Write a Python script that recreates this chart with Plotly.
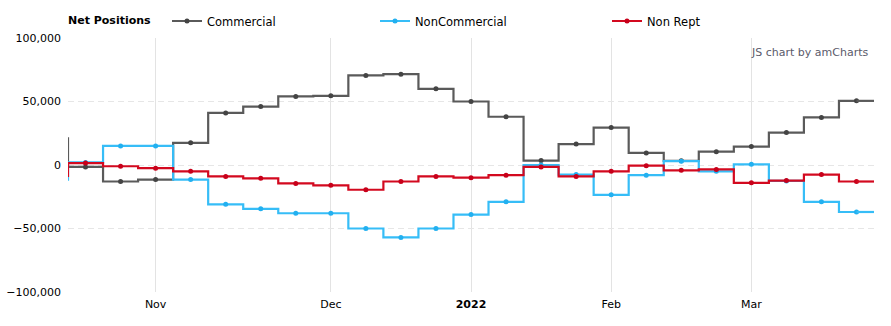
import plotly.graph_objects as go

# Weekly report dates (first entry precedes the visible window)
dates = ["2021-10-12", "2021-10-19", "2021-10-26", "2021-11-02", "2021-11-09", "2021-11-16",
         "2021-11-23", "2021-11-30", "2021-12-07", "2021-12-14", "2021-12-21", "2021-12-28",
         "2022-01-04", "2022-01-11", "2022-01-18", "2022-01-25", "2022-02-01", "2022-02-08",
         "2022-02-15", "2022-02-22", "2022-03-01", "2022-03-08", "2022-03-15", "2022-03-22"]

commercial = [21000, -1500, -13000, -11500, 17500, 41000, 46000, 54000, 54500, 70500, 71500,
              60000, 50000, 38000, 3500, 16500, 29500, 9500, 3300, 10500, 14500, 25500, 37500, 50500]
noncommercial = [-11500, 2000, 15000, 15000, -11500, -31000, -34500, -38000, -38000, -50000, -57000,
                 -50000, -39000, -29000, 0, -7500, -23500, -8000, 3000, -5000, 500, -12500, -29000, -37000]
nonrept = [-8500, 1500, -1000, -2500, -5000, -9000, -10500, -14500, -16000, -19500, -13000,
           -9000, -10000, -8000, -1500, -9000, -5000, -500, -4200, -3500, -14000, -12300, -7500, -13000]

month_ticks = ["2021-11-02", "2021-12-07", "2022-01-04", "2022-02-01", "2022-03-01"]
month_labels = ["Nov", "Dec", "<b>2022</b>", "Feb", "Mar"]
y_ticks = [-100000, -50000, 0, 50000, 100000]

series = [
    ("Commercial", commercial, "#5a5a5a", "#444444", "legend"),
    ("NonCommercial", noncommercial, "#36bdf7", "#22b0f0", "legend2"),
    ("Non Rept", nonrept, "#d3091f", "#c8001a", "legend3"),
]

FONT = "DejaVu Sans"
idx = list(range(len(dates)))
n = len(dates)

fig = go.Figure()
for name, vals, col, mcol, lg in series:
    fig.add_trace(go.Scatter(
        x=idx, y=vals, name=name, mode="lines+markers", line_shape="hvh",
        line=dict(color=col, width=2.2), marker=dict(color=mcol, size=5),
        legend=lg, cliponaxis=True, hoverinfo="skip"))
    # extend last step to the right edge of its cell
    fig.add_trace(go.Scatter(
        x=[idx[-1], idx[-1] + 0.5], y=[vals[-1], vals[-1]], mode="lines",
        line=dict(color=col, width=2.2), showlegend=False, hoverinfo="skip"))

L, R, T, B = 68, 17, 38, 34
W, H = 891, 326
pw, ph = W - L - R, H - T - B

def px(xp):
    return (xp - L) / pw

def py(yp):
    return (H - B - yp) / ph

leg_font = dict(family=FONT, size=11.5, color="#000000")

def legend_at(xp):
    return dict(orientation="h", x=px(xp), y=py(21), xanchor="left", yanchor="middle",
                font=leg_font, bgcolor="rgba(0,0,0,0)", borderwidth=0)

fig.update_layout(
    width=W, height=H,
    margin=dict(l=L, r=R, t=T, b=B, autoexpand=False),
    paper_bgcolor="white", plot_bgcolor="white",
    font=dict(family=FONT, size=11, color="#000000"),
    legend=legend_at(167),
    legend2=legend_at(375),
    legend3=legend_at(607),
    xaxis=dict(range=[0.5, n - 0.5], tickvals=[dates.index(d) for d in month_ticks],
               ticktext=month_labels, showgrid=True, gridcolor="#e3e3e3", gridwidth=1,
               zeroline=False, showline=False, ticks="", ticklabelstandoff=4,
               tickfont=dict(family=FONT, size=11, color="#000000")),
    yaxis=dict(range=[-100000, 100000], tickvals=y_ticks, tickformat=",",
               showgrid=True, gridcolor="#e6e6e6", griddash="6px,4px", gridwidth=1,
               zeroline=False, showline=False, ticks="", ticklabelstandoff=6,
               tickfont=dict(family=FONT, size=11, color="#000000")),
    annotations=[
        dict(text="<b>Net Positions</b>", xref="paper", yref="paper",
             x=px(66), y=py(21), xanchor="left", yanchor="middle",
             showarrow=False, font=dict(family=FONT, size=11, color="#000000")),
        dict(text="JS chart by amCharts", xref="paper", yref="paper",
             x=px(870), y=py(52), xanchor="right", yanchor="middle",
             showarrow=False, font=dict(family=FONT, size=11, color="#5b5b6b")),
    ],
    showlegend=True,
)

fig.write_html("out.html")
